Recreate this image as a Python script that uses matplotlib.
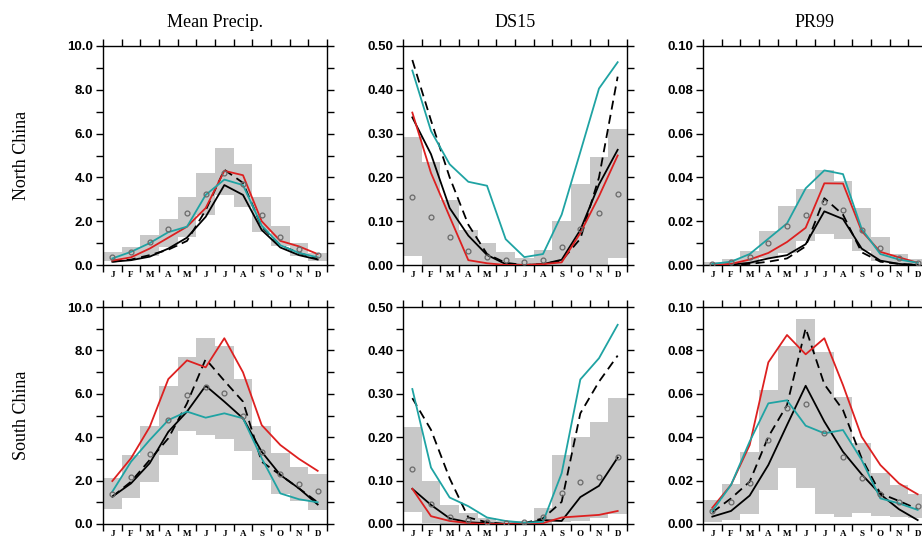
import matplotlib.pyplot as plt
import numpy as np

months = ["J", "F", "M", "A", "M", "J", "J", "A", "S", "O", "N", "D"]
col_titles = ["Mean Precip.", "DS15", "PR99"]
row_titles = ["North China", "South China"]

# ---------------- North China ----------------
# Mean precip
n_pr_lo = [0.2, 0.3, 0.4, 0.8, 1.3, 2.3, 3.2, 2.65, 1.5, 0.85, 0.4, 0.2]
n_pr_hi = [0.61, 0.84, 1.35, 2.1, 3.1, 4.2, 5.35, 4.6, 3.1, 1.8, 1.0, 0.55]
n_pr_obs = [0.38, 0.58, 1.03, 1.65, 2.37, 3.22, 4.2, 3.68, 2.28, 1.29, 0.75, 0.46]
n_pr_red = [0.2, 0.35, 0.75, 1.25, 1.75, 2.6, 4.3, 4.1, 2.0, 1.1, 0.85, 0.5]
n_pr_teal = [0.3, 0.6, 1.0, 1.5, 1.75, 3.2, 3.9, 3.65, 1.8, 0.9, 0.55, 0.35]
n_pr_blk = [0.15, 0.22, 0.38, 0.75, 1.25, 2.2, 3.65, 3.2, 1.6, 0.8, 0.45, 0.25]
n_pr_dash = [0.15, 0.25, 0.45, 0.7, 1.1, 2.5, 4.35, 3.75, 1.75, 0.9, 0.55, 0.3]

# DS15
n_ds_lo = [0.02, 0.0, 0.0, 0.0, 0.0, 0.0, 0.0, 0.0, 0.0, 0.0, 0.0, 0.015]
n_ds_hi = [0.293, 0.236, 0.148, 0.08, 0.05, 0.03, 0.017, 0.034, 0.101, 0.184, 0.247, 0.31]
n_ds_obs = [0.155, 0.11, 0.063, 0.033, 0.019, 0.011, 0.006, 0.011, 0.041, 0.082, 0.119, 0.162]
n_ds_red = [0.348, 0.21, 0.11, 0.011, 0.004, 0.0, 0.0, 0.002, 0.006, 0.073, 0.157, 0.25]
n_ds_teal = [0.444, 0.306, 0.23, 0.19, 0.181, 0.059, 0.018, 0.025, 0.115, 0.258, 0.403, 0.463]
n_ds_blk = [0.337, 0.253, 0.13, 0.067, 0.023, 0.002, 0.0, 0.002, 0.012, 0.08, 0.184, 0.263]
n_ds_dash = [0.468, 0.33, 0.2, 0.092, 0.025, 0.005, 0.0, 0.002, 0.01, 0.06, 0.2, 0.43]

# PR99
n_px_lo = [0.0, 0.0, 0.0005, 0.003, 0.0055, 0.011, 0.014, 0.012, 0.0066, 0.002, 0.001, 0.0]
n_px_hi = [0.0015, 0.0026, 0.0066, 0.0156, 0.027, 0.0345, 0.0436, 0.0383, 0.026, 0.0127, 0.005, 0.0026]
n_px_obs = [0.0005, 0.0012, 0.0038, 0.0102, 0.0178, 0.0227, 0.0288, 0.025, 0.016, 0.0077, 0.003, 0.001]
n_px_red = [0.0, 0.0005, 0.0025, 0.0055, 0.0105, 0.017, 0.0373, 0.0372, 0.0155, 0.006, 0.0035, 0.001]
n_px_teal = [0.0005, 0.0015, 0.005, 0.012, 0.019, 0.035, 0.0432, 0.0415, 0.0165, 0.005, 0.0025, 0.001]
n_px_blk = [0.0, 0.0002, 0.001, 0.003, 0.0045, 0.0095, 0.0245, 0.021, 0.0075, 0.002, 0.0005, 0.0]
n_px_dash = [0.0, 0.0001, 0.0005, 0.0015, 0.003, 0.0085, 0.0305, 0.023, 0.0058, 0.0015, 0.0005, 0.0]

# ---------------- South China ----------------
s_pr_lo = [0.69, 1.18, 1.92, 3.18, 4.3, 4.1, 3.92, 3.38, 2.03, 1.38, 1.06, 0.65]
s_pr_hi = [2.14, 3.18, 4.53, 6.37, 7.68, 8.56, 8.22, 6.68, 4.53, 3.26, 2.64, 2.3]
s_pr_obs = [1.38, 2.18, 3.21, 4.79, 5.94, 6.3, 6.05, 5.0, 3.3, 2.32, 1.83, 1.5]
s_pr_red = [1.98, 3.03, 4.47, 6.68, 7.54, 7.22, 8.56, 6.99, 4.56, 3.64, 3.0, 2.45]
s_pr_teal = [1.49, 2.87, 3.87, 4.79, 5.18, 4.9, 5.1, 4.87, 3.03, 1.41, 1.14, 1.0]
s_pr_blk = [1.26, 1.87, 2.8, 4.25, 5.18, 6.37, 5.64, 4.87, 3.33, 2.26, 1.64, 0.9]
s_pr_dash = [1.26, 1.95, 2.95, 3.95, 5.56, 7.6, 6.6, 5.64, 2.87, 2.26, 1.64, 1.0]

s_ds_lo = [0.028, 0.003, 0.0, 0.0, 0.0, 0.0, 0.0, 0.0, 0.004, 0.007, 0.013, 0.022]
s_ds_hi = [0.224, 0.1, 0.044, 0.025, 0.013, 0.007, 0.008, 0.036, 0.159, 0.2, 0.236, 0.29]
s_ds_obs = [0.127, 0.046, 0.017, 0.009, 0.004, 0.002, 0.004, 0.015, 0.071, 0.097, 0.109, 0.155]
s_ds_red = [0.081, 0.018, 0.007, 0.002, 0.0, 0.0, 0.0, 0.002, 0.015, 0.018, 0.021, 0.03]
s_ds_teal = [0.311, 0.13, 0.061, 0.041, 0.015, 0.007, 0.003, 0.005, 0.117, 0.333, 0.382, 0.459]
s_ds_blk = [0.081, 0.044, 0.013, 0.004, 0.002, 0.0, 0.001, 0.009, 0.007, 0.062, 0.088, 0.153]
s_ds_dash = [0.29, 0.217, 0.105, 0.015, 0.004, 0.0, 0.002, 0.013, 0.051, 0.255, 0.328, 0.388]

s_px_lo = [0.001, 0.0018, 0.0048, 0.0157, 0.0257, 0.0167, 0.0045, 0.0034, 0.0049, 0.0038, 0.0031, 0.0026]
s_px_hi = [0.011, 0.0184, 0.0333, 0.0617, 0.082, 0.0943, 0.0794, 0.0587, 0.0372, 0.0233, 0.018, 0.014]
s_px_obs = [0.006, 0.01, 0.019, 0.0387, 0.0536, 0.0553, 0.0419, 0.031, 0.0213, 0.0137, 0.0103, 0.0083]
s_px_red = [0.0075, 0.018, 0.0364, 0.0745, 0.0871, 0.0782, 0.0856, 0.064, 0.0402, 0.0272, 0.0187, 0.0137]
s_px_teal = [0.006, 0.018, 0.038, 0.0556, 0.057, 0.0453, 0.0418, 0.0433, 0.0295, 0.0118, 0.0095, 0.0065]
s_px_blk = [0.0034, 0.006, 0.0131, 0.0272, 0.0456, 0.0637, 0.0472, 0.0333, 0.0229, 0.0137, 0.0068, 0.0018]
s_px_dash = [0.0054, 0.0118, 0.0195, 0.0402, 0.0548, 0.0902, 0.0644, 0.0525, 0.0303, 0.0141, 0.0106, 0.0069]

panels = [
    [(n_pr_lo, n_pr_hi, n_pr_obs, n_pr_red, n_pr_teal, n_pr_blk, n_pr_dash),
     (n_ds_lo, n_ds_hi, n_ds_obs, n_ds_red, n_ds_teal, n_ds_blk, n_ds_dash),
     (n_px_lo, n_px_hi, n_px_obs, n_px_red, n_px_teal, n_px_blk, n_px_dash)],
    [(s_pr_lo, s_pr_hi, s_pr_obs, s_pr_red, s_pr_teal, s_pr_blk, s_pr_dash),
     (s_ds_lo, s_ds_hi, s_ds_obs, s_ds_red, s_ds_teal, s_ds_blk, s_ds_dash),
     (s_px_lo, s_px_hi, s_px_obs, s_px_red, s_px_teal, s_px_blk, s_px_dash)],
]

# y-axis setup per column: (max, major step, minor step, label format)
yaxes = [(10.0, 2.0, 1.0, "{:.1f}"), (0.5, 0.1, 0.05, "{:.2f}"), (0.1, 0.02, 0.01, "{:.2f}")]

RED = "#dd2020"
TEAL = "#1fa3a3"
GRAY = "#c8c8c8"

fig = plt.figure(figsize=(9.22, 5.46), dpi=100)

W, H = 922, 546
col_left = [103, 403, 703]
row_top = [46, 307]
row_bot = [265, 524]
aw = 224

x = np.arange(12) + 0.5

for r in range(2):
    for c in range(3):
        lo, hi, obs, red, teal, blk, dash = panels[r][c]
        ax = fig.add_axes([col_left[c] / W, 1 - row_bot[r] / H,
                           aw / W, (row_bot[r] - row_top[r]) / H])
        lo = np.array(lo)
        hi = np.array(hi)
        ax.bar(x, hi - lo, bottom=lo, width=1.0, color=GRAY, linewidth=0, zorder=1)
        ax.plot(x, blk, color="black", lw=1.3, zorder=3)
        ax.plot(x, dash, color="black", lw=1.3, ls=(0, (5, 3)), zorder=3)
        ax.plot(x, red, color=RED, lw=1.3, zorder=3)
        ax.plot(x, teal, color=TEAL, lw=1.3, zorder=3)
        ax.plot(x, obs, ls="none", marker="o", ms=3.5, mfc="none",
                mec="#6a6a6a", mew=0.9, zorder=4)

        ymax, major, minor, fmt = yaxes[c]
        ax.set_xlim(0, 12)
        ax.set_ylim(0, ymax)
        ax.set_xticks(np.arange(13))
        ax.set_xticklabels([])
        ax.set_xticks(x, minor=True)
        ax.set_xticklabels(months, minor=True, fontsize=6.5, fontweight="bold",
                           family="Liberation Serif")
        ax.tick_params(axis="x", which="minor", length=0, pad=4)
        ax.tick_params(axis="x", which="major", direction="out", length=5,
                       width=1, top=True, bottom=True)
        yt = np.arange(0, ymax + major / 2, major)
        ax.set_yticks(yt)
        ax.set_yticklabels([fmt.format(v) for v in yt], fontsize=9.5,
                           fontweight="bold", family="Liberation Sans")
        ax.set_yticks(np.arange(0, ymax + minor / 2, minor), minor=True)
        ax.tick_params(axis="y", which="both", direction="out", length=5,
                       width=1, left=True, right=True, pad=2)
        for s in ax.spines.values():
            s.set_linewidth(1.0)

        if r == 0:
            ax.set_title(col_titles[c], fontsize=13, family="Liberation Serif", pad=14)

for r in range(2):
    yc = 1 - (row_top[r] + row_bot[r]) / 2 / H
    fig.text(22 / W, yc, row_titles[r], rotation=90, ha="center", va="center",
             fontsize=13, family="Liberation Serif")

fig.savefig("out.png", dpi=100)
